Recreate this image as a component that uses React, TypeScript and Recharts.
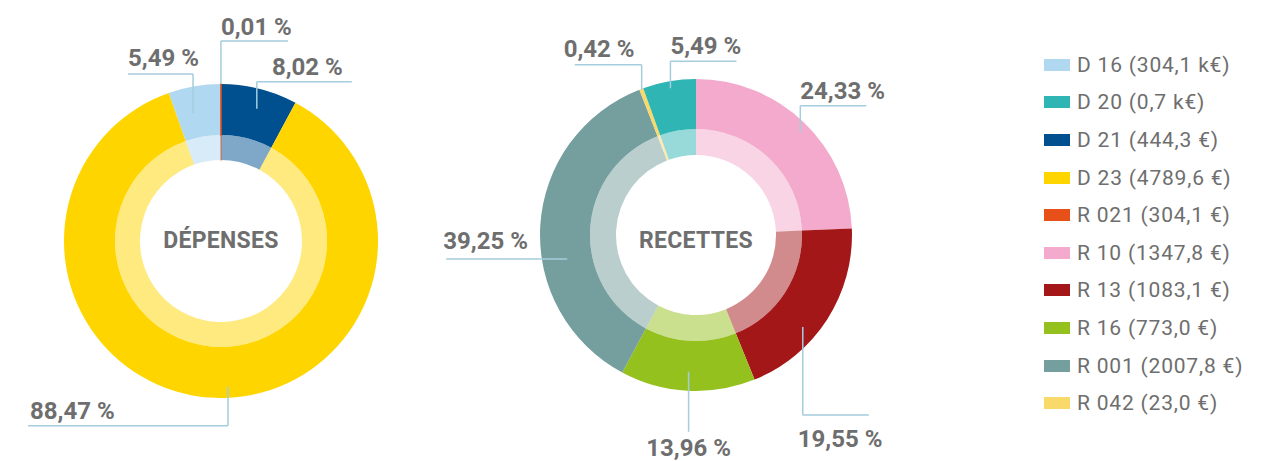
import React from 'react';
import { PieChart, Pie, Cell, Legend } from 'recharts';

// ---- data ----
const depensesCategories = ['D 21', 'D 23', 'D 16', 'R 021'];
const depensesValues = [8.02, 88.47, 5.49, 0.01];
const depensesLabels = ['8,02 %', '88,47 %', '5,49 %', '0,01 %'];

const recettesCategories = ['R 10', 'R 13', 'R 16', 'R 001', 'R 042', 'D 20'];
const recettesValues = [24.33, 19.55, 13.96, 36.25, 0.42, 5.49];
const recettesLabels = ['24,33 %', '19,55 %', '13,96 %', '39,25 %', '0,42 %', '5,49 %'];

const legendCategories = ['D 16', 'D 20', 'D 21', 'D 23', 'R 021', 'R 10', 'R 13', 'R 16', 'R 001', 'R 042'];
const legendAmounts = ['304,1 k€', '0,7 k€', '444,3 €', '4789,6 €', '304,1 €', '1347,8 €', '1083,1 €', '773,0 €', '2007,8 €', '23,0 €'];

// ---- styles ----
const COLORS: Record<string, string> = {
  'D 16': '#B0D8F1',
  'D 20': '#2FB5B3',
  'D 21': '#004F8F',
  'D 23': '#FFD500',
  'R 021': '#E8501A',
  'R 10': '#F3AACC',
  'R 13': '#A31719',
  'R 16': '#95C11F',
  'R 001': '#759E9E',
  'R 042': '#F9D96A',
};

const TEXT = '#6E6E6E';
const LINE = '#A5CDDD';
const FONT = 'Roboto, "Open Sans", sans-serif';

type LabelLayout = { r: number; da: number; vy: number; h0: number; h1: number; tx: number; ty: number; anchor: 'start' | 'middle' | 'end' };

const depensesLayout: LabelLayout[] = [
  { r: 137, da: 1, vy: -27, h0: 0, h1: 95, tx: 86, ty: -7, anchor: 'end' },
  { r: 146, da: -7.2, vy: 39, h0: -200, h1: 0, tx: -198, ty: -7, anchor: 'start' },
  { r: 131, da: -2.6, vy: -39, h0: -65, h1: 0, tx: -65, ty: -8, anchor: 'start' },
  { r: 157, da: 0, vy: -43, h0: 0, h1: 67, tx: 0, ty: -6, anchor: 'start' },
];

const recettesLayout: LabelLayout[] = [
  { r: 146, da: 1.8, vy: -27, h0: 0, h1: 66, tx: 0, ty: -7, anchor: 'start' },
  { r: 141, da: 8, vy: 88, h0: 0, h1: 66, tx: -5, ty: 32, anchor: 'start' },
  { r: 137, da: 0, vy: 60, h0: 0, h1: 0, tx: 0, ty: 24, anchor: 'middle' },
  { r: 131, da: -14, vy: 0, h0: -121, h1: 0, tx: -124, ty: -10, anchor: 'start' },
  { r: 155, da: 0, vy: -25, h0: -67, h1: 0, tx: -78, ty: -8, anchor: 'start' },
  { r: 149, da: 0, vy: -27, h0: 0, h1: 66, tx: 0, ty: -7, anchor: 'start' },
];

const depensesData = depensesCategories.map((name, i) => ({ name, value: depensesValues[i], label: depensesLabels[i] }));
const recettesData = recettesCategories.map((name, i) => ({ name, value: recettesValues[i], label: recettesLabels[i] }));

// very thin slices get an outline in their own colour so they stay visible
const thinStroke = (name: string, value: number) =>
  value < 0.1 ? { stroke: COLORS[name], strokeWidth: 1.5 } : { stroke: 'none' };

function makeLabel(layouts: LabelLayout[], texts: string[]) {
  return (props: any) => {
    const { cx, cy, midAngle, index } = props;
    const L = layouts[index];
    const theta = ((90 - midAngle + L.da) * Math.PI) / 180;
    const ax = cx + L.r * Math.sin(theta);
    const ay = cy - L.r * Math.cos(theta);
    const ey = ay + L.vy;
    return (
      <g key={`lbl-${index}`}>
        {L.vy !== 0 && <line x1={ax} y1={ay} x2={ax} y2={ey} stroke={LINE} strokeWidth={1.5} />}
        {L.h0 !== L.h1 && <line x1={ax + L.h0} y1={ey} x2={ax + L.h1} y2={ey} stroke={LINE} strokeWidth={1.5} />}
        <text
          x={ax + L.tx}
          y={ey + L.ty}
          textAnchor={L.anchor}
          fill={TEXT}
          fontFamily={FONT}
          fontWeight={700}
          fontSize={24}
        >
          {texts[index]}
        </text>
      </g>
    );
  };
}

const renderLegend = () => (
  <div style={{ fontFamily: FONT }}>
    {legendCategories.map((c, i) => (
      <div key={c} style={{ display: 'flex', alignItems: 'center', height: 37.6 }}>
        <div style={{ width: 26, height: 12, background: COLORS[c], marginRight: 7 }} />
        <span style={{ fontSize: 21, color: TEXT, letterSpacing: 0.8, whiteSpace: 'nowrap' }}>
          {c} ({legendAmounts[i]})
        </span>
      </div>
    ))}
  </div>
);

export default function App() {
  return (
    <div style={{ position: 'absolute', left: 0, top: 0, width: 1284, height: 461, background: '#fff' }}>
      <PieChart width={1284} height={461} margin={{ top: 0, right: 0, bottom: 0, left: 0 }}>
        {/* Dépenses */}
        <Pie
          data={depensesData}
          dataKey="value"
          cx={221}
          cy={241}
          innerRadius={81}
          outerRadius={106}
          startAngle={90}
          endAngle={-270}
          stroke="none"
          isAnimationActive={false}
          legendType="none"
        >
          {depensesData.map((d) => (
            <Cell key={d.name} fill={COLORS[d.name]} fillOpacity={0.5} {...thinStroke(d.name, d.value)} strokeOpacity={0.5} />
          ))}
        </Pie>
        <Pie
          data={depensesData}
          dataKey="value"
          cx={221}
          cy={241}
          innerRadius={106}
          outerRadius={157}
          startAngle={90}
          endAngle={-270}
          stroke="none"
          isAnimationActive={false}
          label={makeLabel(depensesLayout, depensesLabels)}
          labelLine={false}
          legendType="none"
        >
          {depensesData.map((d) => (
            <Cell key={d.name} fill={COLORS[d.name]} {...thinStroke(d.name, d.value)} />
          ))}
        </Pie>
        {/* Recettes */}
        <Pie
          data={recettesData}
          dataKey="value"
          cx={696}
          cy={235}
          innerRadius={80}
          outerRadius={106}
          startAngle={90}
          endAngle={-270}
          stroke="none"
          isAnimationActive={false}
          legendType="none"
        >
          {recettesData.map((d) => (
            <Cell key={d.name} fill={COLORS[d.name]} fillOpacity={0.5} />
          ))}
        </Pie>
        <Pie
          data={recettesData}
          dataKey="value"
          cx={696}
          cy={235}
          innerRadius={106}
          outerRadius={156}
          startAngle={90}
          endAngle={-270}
          stroke="none"
          isAnimationActive={false}
          label={makeLabel(recettesLayout, recettesLabels)}
          labelLine={false}
          legendType="none"
        >
          {recettesData.map((d) => (
            <Cell key={d.name} fill={COLORS[d.name]} />
          ))}
        </Pie>
        <text x={221} y={248} textAnchor="middle" fill={TEXT} fontFamily={FONT} fontWeight={700} fontSize={23} letterSpacing={0.3}>
          DÉPENSES
        </text>
        <text x={696} y={248} textAnchor="middle" fill={TEXT} fontFamily={FONT} fontWeight={700} fontSize={23} letterSpacing={0.3}>
          RECETTES
        </text>
        <Legend
          content={renderLegend}
          wrapperStyle={{ position: 'absolute', left: 1044, top: 46, width: 240 }}
        />
      </PieChart>
    </div>
  );
}
